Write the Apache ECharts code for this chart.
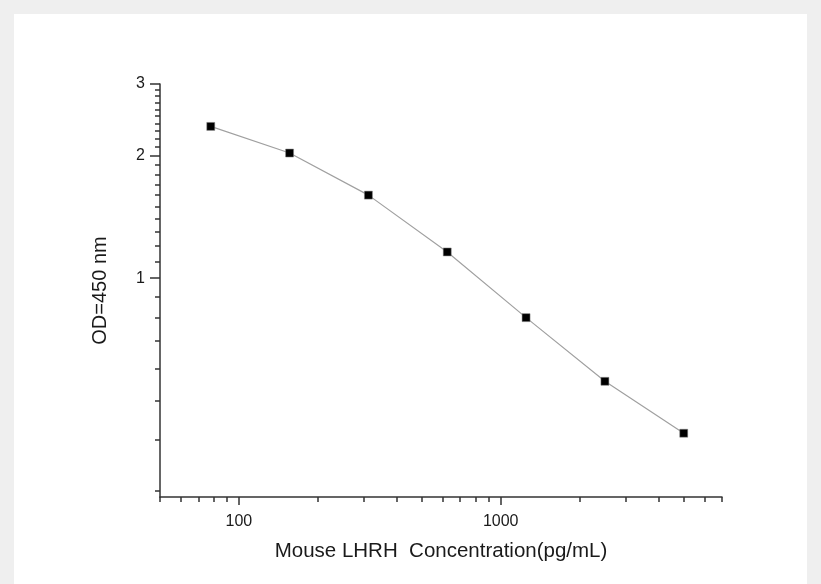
<!DOCTYPE html>
<html>
<head>
<meta charset="utf-8">
<script src="https://cdn.jsdelivr.net/npm/echarts@6/dist/echarts.min.js"></script>
<style>
  html, body { margin: 0; padding: 0; background: #efefef; }
  .panel { position: absolute; left: 14px; top: 14px; width: 793px; height: 570px; background: #fff; }
  #chart { position: absolute; left: 0; top: 0; width: 821px; height: 584px; }
</style>
</head>
<body>
<div class="panel"></div>
<div id="chart"></div>
<script>
// standard curve: concentration (pg/mL) vs OD 450
var concentration = [78.125, 156.25, 312.5, 625, 1250, 2500, 5000];
var od450 = [2.36, 2.03, 1.60, 1.16, 0.80, 0.558, 0.416];

var xLabels = [100, 1000];
var xMinor = [50, 60, 70, 80, 90, 200, 300, 400, 500, 600, 700, 800, 900, 2000, 3000, 4000, 5000, 6000, 7000];
var yLabels = [1, 2, 3];
var yMinor = [0.3, 0.4, 0.5, 0.6, 0.7, 0.8, 0.9, 1.1, 1.2, 1.3, 1.4, 1.5, 1.6, 1.7, 1.8, 1.9,
              2.1, 2.2, 2.3, 2.4, 2.5, 2.6, 2.7, 2.8, 2.9];

var points = concentration.map(function (c, i) { return [c, od450[i]]; });

var font = "Liberation Sans, Arial, sans-serif";
var lineCol = "#333";

var chart = echarts.init(document.getElementById("chart"));
chart.setOption({
  animation: false,
  grid: { left: 160, right: 99, top: 84, bottom: 87, containLabel: false },
  xAxis: [
    {
      type: "log", logBase: 10, min: 50, max: 7000,
      name: "Mouse LHRH  Concentration(pg/mL)",
      nameLocation: "middle", nameGap: 44,
      nameTextStyle: { fontFamily: font, fontSize: 20.5, color: "#1a1a1a" },
      axisLine: { show: true, lineStyle: { color: lineCol, width: 1.5 } },
      axisTick: { show: true, inside: false, length: 8, customValues: xLabels, lineStyle: { color: lineCol, width: 1.5 } },
      axisLabel: { customValues: xLabels, margin: 17, fontFamily: font, fontSize: 16, color: "#1a1a1a",
                   formatter: function (v) { return String(Math.round(v)); } },
      splitLine: { show: false }
    },
    {
      type: "log", logBase: 10, min: 50, max: 7000, position: "bottom",
      axisLine: { show: false },
      axisTick: { show: true, length: 5, customValues: xMinor, lineStyle: { color: lineCol, width: 1.5 } },
      axisLabel: { show: false },
      splitLine: { show: false }
    }
  ],
  yAxis: [
    {
      type: "log", logBase: 10, min: 0.29, max: 3,
      name: "OD=450 nm",
      nameLocation: "middle", nameGap: 50, nameRotate: 90,
      nameTextStyle: { fontFamily: font, fontSize: 20, color: "#1a1a1a" },
      axisLine: { show: true, lineStyle: { color: lineCol, width: 1.5 } },
      axisTick: { show: true, length: 10, customValues: yLabels, lineStyle: { color: lineCol, width: 1.5 } },
      axisLabel: { customValues: yLabels, margin: 15, fontFamily: font, fontSize: 16, color: "#1a1a1a" },
      splitLine: { show: false }
    },
    {
      type: "log", logBase: 10, min: 0.29, max: 3, position: "left",
      axisLine: { show: false },
      axisTick: { show: true, length: 5, customValues: yMinor, lineStyle: { color: lineCol, width: 1.5 } },
      axisLabel: { show: false },
      splitLine: { show: false }
    }
  ],
  series: [
    {
      type: "line",
      data: points,
      xAxisIndex: 0, yAxisIndex: 0,
      symbol: "rect", symbolSize: 8,
      itemStyle: { color: "#000", borderColor: "#888", borderWidth: 0.5 },
      lineStyle: { color: "#a0a0a0", width: 1.2 }
    }
  ]
});
</script>
</body>
</html>
